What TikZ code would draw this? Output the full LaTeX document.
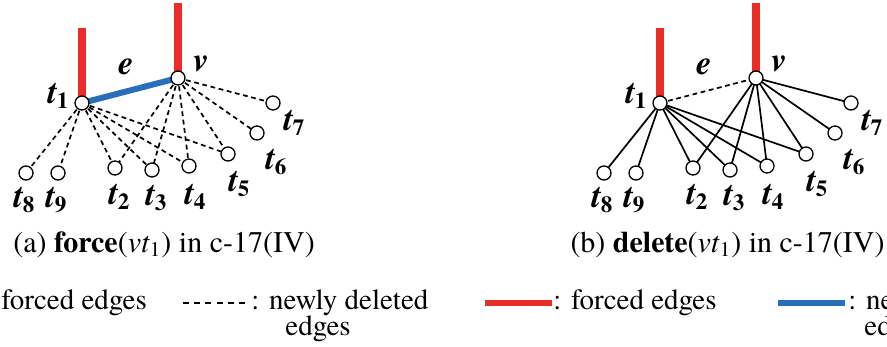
\documentclass[tikz,border=0pt]{standalone}
\usepackage{fontspec}
\setmainfont{texgyretermes}[Extension=.otf,UprightFont=*-regular,BoldFont=*-bold,ItalicFont=*-italic,BoldItalicFont=*-bolditalic]
\usetikzlibrary{backgrounds}
\definecolor{forcedred}{RGB}{235,45,40}
\definecolor{forcedblue}{RGB}{40,110,185}
% vertex label: bold italic t with a bold upright subscript
\newcommand\tl[1]{\textbf{\textit{t}}\raisebox{-0.28ex}{\fontsize{11.5}{11.5}\selectfont\bfseries\upshape #1}}
\tikzset{
  vtx/.style={circle,draw,fill=white,minimum size=7pt,inner sep=0pt,line width=0.65pt},
  lbl/.style={font=\fontsize{17}{17}\selectfont\bfseries\itshape,inner sep=0pt},
  deledge/.style={line width=0.85pt,dash pattern=on 2.4pt off 1.8pt},
  keepedge/.style={line width=0.85pt},
  redline/.style={forcedred,line width=3.6pt},
  blueline/.style={forcedblue,line width=3pt},
  captxt/.style={font=\fontsize{15}{15}\selectfont,inner sep=0pt},
  txt/.style={font=\fontsize{14.5}{14.5}\selectfont,inner sep=0pt}
}
% One tree: #1 = style of the edges to t2..t9, #2 = style of the edge t1--v
\newcommand\drawtree[2]{%
  \node[vtx] (t1) at (82,103) {};
  \node[vtx] (v)  at (178,78) {};
  \node[vtx] (t2) at (115,168) {};
  \node[vtx] (t3) at (152,170) {};
  \node[vtx] (t4) at (189,166) {};
  \node[vtx] (t5) at (228,154) {};
  \node[vtx] (t6) at (257,133) {};
  \node[vtx] (t7) at (273,103) {};
  \node[vtx] (t8) at (26,173) {};
  \node[vtx] (t9) at (58,173) {};
  \coordinate (t1top) at (82,28);
  \coordinate (vtop) at (178,3);
  \node[lbl] (lt1) at (58,96) {\tl{1}};
  \node[lbl] (le)  at (126,67) {e};
  \node[lbl] (lv)  at (201,64) {v};
  \node[lbl] (lt2) at (119,197) {\tl{2}};
  \node[lbl] (lt3) at (156,198) {\tl{3}};
  \node[lbl] (lt4) at (195,197) {\tl{4}};
  \node[lbl] (lt5) at (239,184) {\tl{5}};
  \node[lbl] (lt6) at (276,162) {\tl{6}};
  \node[lbl] (lt7) at (294,123) {\tl{7}};
  \node[lbl] (lt8) at (24,200) {\tl{8}};
  \node[lbl] (lt9) at (56,200) {\tl{9}};
  \begin{scope}[on background layer]
    \draw[redline] (t1top) -- (t1.center);
    \draw[redline] (vtop) -- (v.center);
    \draw[#2] (t1.center) -- (v.center);
    \foreach \t in {t8,t9,t2,t3,t4,t5}
      \draw[#1] (t1.center) -- (\t.center);
    \foreach \t in {t2,t3,t4,t5,t6,t7}
      \draw[#1] (v.center) -- (\t.center);
  \end{scope}
}
\begin{document}
\begin{tikzpicture}[x=0.5pt,y=-0.5pt]
  \useasboundingbox (0,0) rectangle (887,347);
  \clip (0,0) rectangle (887,347);
  \begin{scope}[name prefix=a-]
    \drawtree{deledge}{blueline}
  \end{scope}
  \begin{scope}[shift={(578,0)},name prefix=b-]
    \drawtree{keepedge}{deledge}
  \end{scope}
  % captions
  \node[captxt,anchor=base west] (capa) at (13,252) {(a) \textbf{force}(\textit{vt}\textsubscript{1}) in c-17(IV)};
  \node[captxt,anchor=base east] (capb) at (885,252) {(b) \textbf{delete}(\textit{vt}\textsubscript{1}) in c-17(IV)};
  % legends
  \node[txt,anchor=base west] (lega) at (1,309) {forced edges};
  \coordinate (dashA) at (183,303);
  \coordinate (dashB) at (249,303);
  \draw[line width=0.6pt,dash pattern=on 3pt off 2.6pt] (dashA) -- (dashB);
  \node[txt,anchor=base west] (legb) at (251,309) {: newly deleted};
  \node[txt,anchor=base west] (legb2) at (285,335) {edges};
  \coordinate (redA) at (485,303);
  \coordinate (redB) at (552,303);
  \draw[redline,line width=2.6pt] (redA) -- (redB);
  \node[txt,anchor=base west] (legc) at (553,309) {: forced edges};
  \coordinate (blueA) at (778,303);
  \coordinate (blueB) at (845,303);
  \draw[blueline,line width=2.6pt] (blueA) -- (blueB);
  \node[txt,anchor=base west] (legd) at (848,309) {: newly};
  \node[txt,anchor=base west] (legd2) at (864,335) {edges};
\end{tikzpicture}
\end{document}
